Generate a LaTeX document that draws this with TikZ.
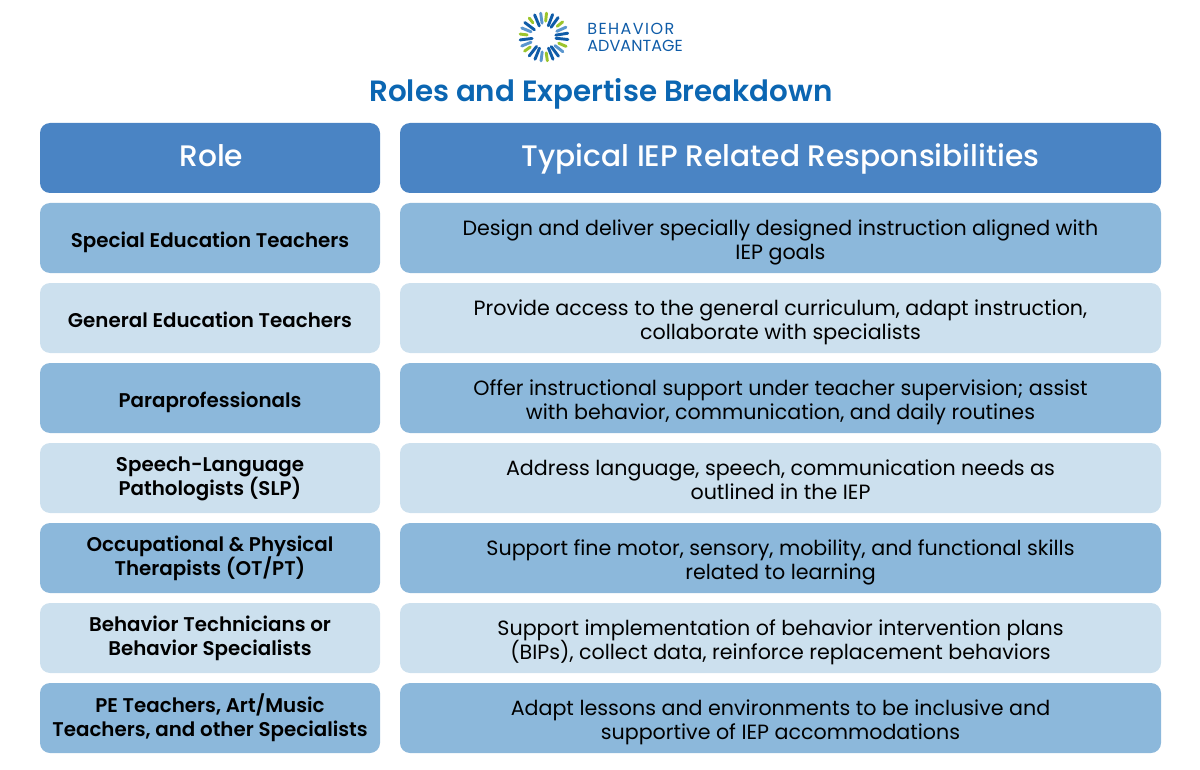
\documentclass[tikz,border=0pt]{standalone}
\usepackage{fontspec}
\setmainfont{Poppins}
\definecolor{hdr}{HTML}{4A84C4}
\definecolor{midb}{HTML}{8CB8DB}
\definecolor{lightb}{HTML}{CCE0EE}
\definecolor{ttl}{HTML}{0B66B2}
\definecolor{logob}{HTML}{0F5CA8}
\definecolor{logol}{HTML}{5A96CE}
\definecolor{logog}{HTML}{9CC42C}
\setlength{\normallineskiplimit}{-30pt}
\setlength{\lineskiplimit}{-30pt}
\tikzset{
  cell/.style={rounded corners=7.5pt,inner sep=0pt,minimum height=52.5pt},
  rolecell/.style={cell,minimum width=255pt},
  respcell/.style={cell,minimum width=570.75pt},
  hdrcell/.style={cell,fill=hdr},
  roletext/.style={inner sep=0pt,align=center,text=black,font=\fontsize{14.88}{18}\selectfont\fontspec{Poppins SemiBold}},
  resptext/.style={inner sep=0pt,align=center,text=black,font=\fontsize{15.47}{18}\selectfont},
  hdrtext/.style={inner sep=0pt,align=center,text=white,font=\fontsize{22.25}{26}\selectfont\fontspec{Poppins Medium}},
  ray/.style={line width=2.2pt,line cap=round},
}
\begin{document}
\begin{tikzpicture}[x=0.75pt,y=-0.75pt]
\useasboundingbox (0,0) rectangle (1200,770);
\node[font=\fontsize{22}{26}\selectfont\fontspec{Poppins SemiBold},text=ttl,inner sep=0pt] (title) at (601,95) {\strut Roles and Expertise Breakdown};
\node[hdrcell,rolecell] (h1) at (210,158) {};
\node[hdrcell,respcell] (h2) at (780.5,158) {};
\node[hdrtext] (h1t) at ([xshift=1pt,yshift=-1.5pt]h1.center) {\strut Role};
\node[hdrtext] (h2t) at ([yshift=-1.5pt]h2.center) {\strut Typical IEP Related Responsibilities};
\foreach \i/\y/\c/\o/\a/\b in {
 1/238/midb/5/{Special Education Teachers}/{Design and deliver specially designed instruction aligned with\\IEP goals},
 2/318/lightb/5/{General Education Teachers}/{Provide access to the general curriculum, adapt instruction,\\collaborate with specialists},
 3/398/midb/5/{Paraprofessionals}/{Offer instructional support under teacher supervision; assist\\with behavior, communication, and daily routines},
 4/478/lightb/1/{Speech-Language\\Pathologists (SLP)}/{Address language, speech, communication needs as\\outlined in the IEP},
 5/558/midb/1/{Occupational \& Physical\\Therapists (OT/PT)}/{Support fine motor, sensory, mobility, and functional skills\\related to learning},
 6/638/lightb/1/{Behavior Technicians or\\Behavior Specialists}/{Support implementation of behavior intervention plans\\(BIPs), collect data, reinforce replacement behaviors},
 7/718/midb/1/{PE Teachers, Art/Music\\Teachers, and other Specialists}/{Adapt lessons and environments to be inclusive and\\supportive of IEP accommodations}}{
  \node[rolecell,fill=\c] (r\i) at (210,\y) {};
  \node[respcell,fill=\c] (d\i) at (780.5,\y) {};
  \node[roletext] (r\i t) at ([yshift=-\o*0.75pt]r\i.center) {\strut\a\strut};
  \node[resptext] (d\i t) at ([yshift=-3.75pt]d\i.center) {\strut\b\strut};
}
% logo mark
\foreach \ang/\col/\ra in {6/logog/16,21/logob/12,36/logob/12,51/logog/17,66/logol/14,81/logob/12,96/logob/12,113/logog/16,128/logol/14,143/logob/12,158/logob/12,172/logog/16,187/logol/15,202/logob/12,218/logob/12,234/logog/17,248/logol/14,263/logob/12,277/logog/17,292/logol/14,307/logob/12,322/logog/18,337/logob/12,352/logol/14}{
  \draw[ray,color=\col] (544,37) ++(\ang-90:\ra) -- ++(\ang-90:{24-\ra});
}
\node[font=\fontsize{12}{14}\selectfont\addfontfeature{LetterSpace=9},text=logob,inner sep=0pt,anchor=base west] (logo1) at (587,35) {BEHAVIOR};
\node[font=\fontsize{12}{14}\selectfont\addfontfeature{LetterSpace=0.5},text=logob,inner sep=0pt,anchor=base west] (logo2) at (587,52) {ADVANTAGE};
\end{tikzpicture}
\end{document}
